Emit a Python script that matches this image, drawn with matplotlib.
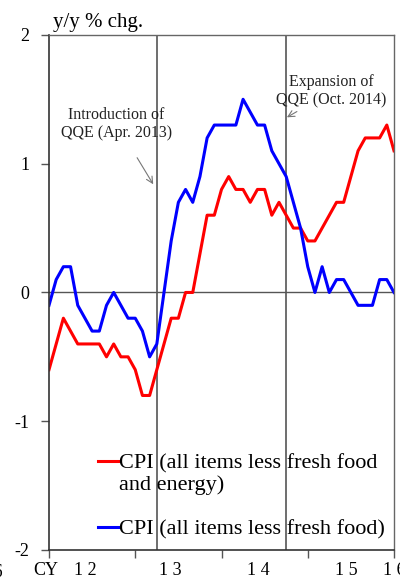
import matplotlib
matplotlib.use("Agg")
import matplotlib.pyplot as plt

# # # # # data (monthly, Jan 2012 - Jan 2016) # # # # #

core_core = [-0.6, -0.4, -0.2, -0.3, -0.4, -0.4, -0.4, -0.4, -0.5, -0.4, -0.5, -0.5,
             -0.6, -0.8, -0.8, -0.6, -0.4, -0.2, -0.2, 0.0, 0.0, 0.3, 0.6, 0.6,
             0.8, 0.9, 0.8, 0.8, 0.7, 0.8, 0.8, 0.6, 0.7, 0.6, 0.5, 0.5,
             0.4, 0.4, 0.5, 0.6, 0.7, 0.7, 0.9, 1.1, 1.2, 1.2, 1.2, 1.3,
             1.1]
core = [-0.1, 0.1, 0.2, 0.2, -0.1, -0.2, -0.3, -0.3, -0.1, 0.0, -0.1, -0.2,
        -0.2, -0.3, -0.5, -0.4, 0.0, 0.4, 0.7, 0.8, 0.7, 0.9, 1.2, 1.3,
        1.3, 1.3, 1.3, 1.5, 1.4, 1.3, 1.3, 1.1, 1.0, 0.9, 0.7, 0.5,
        0.2, 0.0, 0.2, 0.0, 0.1, 0.1, 0.0, -0.1, -0.1, -0.1, 0.1, 0.1,
        0.0]
series_labels = ["CPI (all items less fresh food\nand energy)",
                 "CPI (all items less fresh food)"]
year_labels = ["1 2", "1 3", "1 4", "1 5", "1 6"]
qqe_months = [15, 33]   # Apr 2013, Oct 2014
qqe_texts = ["Introduction of\nQQE (Apr. 2013)", "Expansion of\nQQE (Oct. 2014)"]

plt.rcParams['font.family'] = ['Liberation Serif', 'DejaVu Serif']

fig = plt.figure(figsize=(4.0, 5.82), dpi=100)
ax = fig.add_axes([0.1225, 0.055, 0.8625, 0.885])

months = list(range(len(core)))
ax.plot(months, core_core, color='#ff0000', lw=2.2, solid_joinstyle='round')
ax.plot(months, core, color='#0000ff', lw=2.2, solid_joinstyle='round')

# zero line and QQE markers
ax.axhline(0, color='#555555', lw=1.0, zorder=0)
for m in qqe_months:
    ax.axvline(m, color='#555555', lw=1.2, zorder=0)

ax.set_xlim(0, 48)
ax.set_ylim(-2, 2)
ax.set_yticks([-2, -1, 0, 1, 2])
ax.set_yticklabels(['-2', '-1', '0', '1', '2'])
ax.set_xticks([0, 12, 24, 36, 48])
ax.set_xticklabels([])
ax.tick_params(axis='y', direction='out', length=6, width=1, labelsize=13, pad=8, color='#555555')
ax.tick_params(axis='x', direction='out', length=6, width=1, color='#555555')
for s in ['top', 'right']:
    ax.spines[s].set_color('#666666')
    ax.spines[s].set_linewidth(1.0)
for s in ['left', 'bottom']:
    ax.spines[s].set_color('#333333')
    ax.spines[s].set_linewidth(1.2)

# year labels under the axis
year_pos = [5.0, 16.9, 29.1, 41.3, 48.1]
for x, lab in zip(year_pos, year_labels):
    ax.text(x, -2.16, lab, ha='center', va='center', fontsize=13, clip_on=False)
ax.text(-0.5, -2.16, 'CY', ha='center', va='center', fontsize=13, clip_on=False)
fig.text(-0.021, 0.016, '1 6', ha='center', va='center', fontsize=13)

fig.text(0.133, 0.962, 'y/y % chg.', ha='left', va='center', fontsize=15)

# annotations
ax.annotate(qqe_texts[0], xy=(14.5, 0.84), xytext=(9.4, 1.31), ha='center', va='center',
            fontsize=11.5, color='#222222', linespacing=1.15,
            arrowprops=dict(arrowstyle='->', color='#777777', lw=0.8, shrinkA=12, shrinkB=0))
ax.annotate(qqe_texts[1], xy=(33.1, 1.36), xytext=(39.3, 1.56), ha='center', va='center',
            fontsize=11.5, color='#222222', linespacing=1.2,
            arrowprops=dict(arrowstyle='->', color='#777777', lw=0.8, shrinkA=10, shrinkB=0))

# legend drawn like the original (handle next to first text line)
leg_y = [-1.31, -1.82]
for y, lab, col in zip(leg_y, series_labels, ['#ff0000', '#0000ff']):
    ax.plot([6.8, 9.7], [y, y], color=col, lw=2.2, clip_on=False)
    ax.text(9.8, y + 0.055, lab, ha='left', va='top', fontsize=16, linespacing=1.1,
            transform=ax.transData)

fig.savefig('out.png', dpi=100)
